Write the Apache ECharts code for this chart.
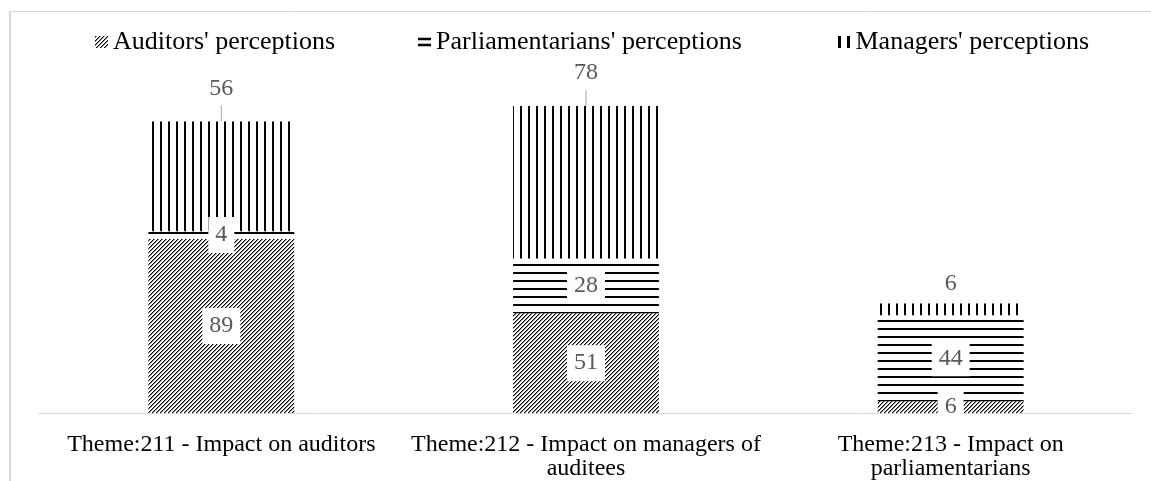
<!DOCTYPE html>
<html><head><meta charset="utf-8">
<script src="https://cdn.jsdelivr.net/npm/echarts@6/dist/echarts.min.js"></script>
<style>html,body{margin:0;padding:0;background:#fff;}#c{width:1151px;height:481px;}</style>
</head><body><div id="c"></div>
<script>
const categories = ['Theme:211 - Impact on auditors', 'Theme:212 - Impact on managers of\nauditees', 'Theme:213 - Impact on\nparliamentarians'];
const seriesNames = ["Auditors' perceptions", "Parliamentarians' perceptions", "Managers' perceptions"];
const auditors = [89, 51, 6];
const parliamentarians = [4, 28, 44];
const managers = [56, 78, 6];

function makePattern(size, fn) {
  const c = document.createElement('canvas'); c.width = size; c.height = size;
  const ctx = c.getContext('2d'); ctx.fillStyle = '#fff'; ctx.fillRect(0, 0, size, size);
  for (let x = 0; x < size; x++) for (let y = 0; y < size; y++) {
    const col = fn(x, y);
    if (col) { ctx.fillStyle = col; ctx.fillRect(x, y, 1, 1); }
  }
  return { image: c, repeat: 'repeat' };
}
const diag = makePattern(4, (x, y) => ((x + y) % 4 === 0 ? '#000' : ((x + y) % 4 === 1 ? '#8c8c8c' : null)));
const horiz = makePattern(8, (x, y) => (y < 2 ? '#000' : null));
const vert = makePattern(8, (x, y) => (x < 2 ? '#000' : null));

const FONT = 'Liberation Serif';
const innerLabel = {
  show: true, position: 'inside', color: '#595959', fontFamily: FONT, fontSize: 24,
  lineHeight: 24, backgroundColor: '#fff', padding: [6, 7]
};
const legendBase = { top: 24, itemWidth: 13, itemHeight: 12,
  textStyle: { fontFamily: FONT, fontSize: 26, color: '#000' } };

const chart = echarts.init(document.getElementById('c'), null, { renderer: 'canvas' });
chart.setOption({
  animation: false,
  backgroundColor: '#fff',
  graphic: [
    { type: 'line', shape: { x1: 10, y1: 11, x2: 10, y2: 481 }, style: { stroke: '#d9d9d9', lineWidth: 2 } },
    { type: 'line', shape: { x1: 9, y1: 11.5, x2: 1151, y2: 11.5 }, style: { stroke: '#d9d9d9', lineWidth: 1 } }
  ],
  legend: [
    Object.assign({}, legendBase, { left: 90, itemGap: 83, data: [
      { name: seriesNames[0], icon: 'rect' },
      { name: seriesNames[1], icon: 'path://M0,0H15V3H0Z M0,7H15V10H0Z', itemStyle: { color: '#000' } }
    ] }),
    Object.assign({}, legendBase, { left: 833, data: [
      { name: seriesNames[2], icon: 'path://M0,0H3V12H0Z M9,0H12V12H9Z', itemStyle: { color: '#000' } }
    ] })
  ],
  grid: { left: 39, right: 18, top: 61, bottom: 66 },
  xAxis: {
    type: 'category', data: categories,
    axisLine: { lineStyle: { color: '#d9d9d9', width: 1 } },
    axisTick: { show: false },
    axisLabel: { interval: 0, color: '#000', fontFamily: FONT, fontSize: 24, lineHeight: 24, margin: 20 }
  },
  yAxis: { type: 'value', min: 0, max: 180, show: false, splitLine: { show: false } },
  series: [
    { name: seriesNames[0], type: 'bar', stack: 't', barWidth: '40%', data: auditors,
      itemStyle: { color: diag }, label: innerLabel },
    { name: seriesNames[1], type: 'bar', stack: 't', barWidth: '40%', data: parliamentarians,
      itemStyle: { color: horiz }, label: innerLabel },
    { name: seriesNames[2], type: 'bar', stack: 't', barWidth: '40%',
      data: managers.map((v, i) => ({
        value: v,
        label: i < 2 ? { formatter: '{v|{c}}\n{l| }', distance: 0 } : { formatter: '{v|{c}}', distance: 3 }
      })),
      itemStyle: { color: vert },
      label: {
        show: true, position: 'top',
        rich: {
          v: { color: '#595959', fontFamily: FONT, fontSize: 24, lineHeight: 34, align: 'center' },
          l: { width: 1, height: 16, backgroundColor: '#a6a6a6', fontSize: 1, lineHeight: 16 }
        }
      } }
  ]
});
</script></body></html>
